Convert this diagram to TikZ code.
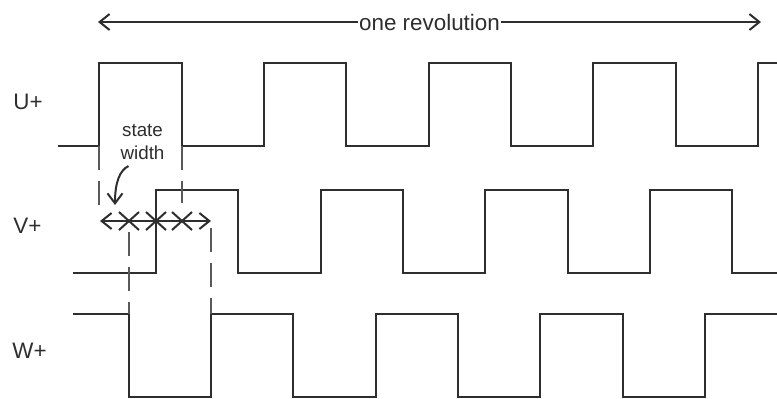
\documentclass[tikz,border=0pt]{standalone}
\usepackage{fontspec}
\setmainfont{Liberation Sans}
\usetikzlibrary{arrows.meta,shapes.misc}

\def\WAVECOLOR{black!82}
\def\GUIDECOLOR{black!65}

\tikzset{
	wave/.style={line width=1.15pt,\WAVECOLOR,line join=miter},
	guide/.style={line width=0.7pt,\GUIDECOLOR,dash pattern=on 12pt off 5.5pt},
	span/.style={line width=1pt,\WAVECOLOR,{Straight Barb[length=5pt,width=8pt]}-{Straight Barb[length=5pt,width=8pt]}},
	note/.style={line width=1pt,\WAVECOLOR,-{Straight Barb[length=5pt,width=7.5pt]}},
	sig/.style={anchor=base west,inner sep=0pt,font=\fontsize{11.2}{13}\selectfont,text=\WAVECOLOR},
	crossing/.style={draw=\WAVECOLOR,line width=1pt,cross out,inner sep=0pt,minimum width=9pt,minimum height=8pt}
}

\begin{document}
\begin{tikzpicture}[x=0.5pt,y=-0.5pt]

	\useasboundingbox (0,0) rectangle (777,398);

	% one revolution
	\coordinate (revL) at (98,22);
	\coordinate (revR) at (761,22);
	\draw[span] (revL) -- node[fill=white,inner sep=0.5pt,font=\fontsize{11.2}{13}\selectfont,text=\WAVECOLOR] (rev) {one revolution} (revR);

	% signal names
	\node[sig] (uplus) at (13,109) {U+};
	\node[sig] (vplus) at (13,233) {V+};
	\node[sig] (wplus) at (12,358) {W+};

	% U+
	\draw[wave] (58,146) -- (99,146) -- (99,63) -- (182,63) -- (182,146)
		-- (264,146) -- (264,63) -- (346,63) -- (346,146)
		-- (429,146) -- (429,63) -- (511,63) -- (511,146)
		-- (593,146) -- (593,63) -- (676,63) -- (676,146)
		-- (758,146) -- (758,63) -- (777,63);
	% V+
	\draw[wave] (73,273) -- (156,273) -- (156,190) -- (238,190) -- (238,273)
		-- (321,273) -- (321,190) -- (403,190) -- (403,273)
		-- (485,273) -- (485,190) -- (568,190) -- (568,273)
		-- (650,273) -- (650,190) -- (732,190) -- (732,273)
		-- (777,273);
	% W+
	\draw[wave] (73,314) -- (129,314) -- (129,397) -- (211,397) -- (211,314)
		-- (293,314) -- (293,397) -- (376,397) -- (376,314)
		-- (458,314) -- (458,397) -- (540,397) -- (540,314)
		-- (623,314) -- (623,397) -- (705,397) -- (705,314)
		-- (777,314);

	% guide lines
	\draw[guide] (99,146) -- (99,205);
	\draw[guide] (182,146) -- (182,203);
	\draw[guide] (129,232) -- (129,314);
	\draw[guide] (211,228) -- (211,314);

	% state width
	\coordinate (stL) at (100,221);
	\coordinate (stR) at (211,221);
	\draw[span] (stL) -- (stR);
	\node[crossing] (x1) at (129,221) {};
	\node[crossing] (x2) at (156,221) {};
	\node[crossing] (x3) at (182,221) {};
	\node[align=center,inner sep=0pt,font=\fontsize{9.4}{11.5}\selectfont,text=\WAVECOLOR] (sw) at (142.5,142) {state\\width};
	\coordinate (swtip) at (115,205);
	\draw[note] ([xshift=-7pt,yshift=-3pt]sw.south) .. controls (120,170) and (115,182) .. (swtip);

\end{tikzpicture}
\end{document}
